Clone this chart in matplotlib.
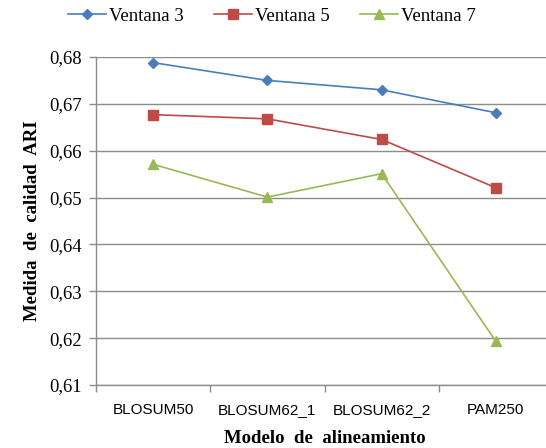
import numpy as np
import matplotlib.pyplot as plt
from matplotlib.ticker import FixedLocator, FuncFormatter

# --- Data ---
modelos = ["BLOSUM50", "BLOSUM62_1", "BLOSUM62_2", "PAM250"]
ventana3 = [0.6788, 0.6750, 0.6730, 0.6681]
ventana5 = [0.6677, 0.6668, 0.6624, 0.6521]
ventana7 = [0.6571, 0.6501, 0.6551, 0.6193]
y_ticks = [0.61, 0.62, 0.63, 0.64, 0.65, 0.66, 0.67, 0.68]

serif = "Liberation Serif"
sans = "Liberation Sans"
grid_col = "#8c8c8c"

fig = plt.figure(figsize=(5.46, 4.48), dpi=100)
# axes extends a bit past the right border, as in the original crop
ax = fig.add_axes([96 / 546, 1 - 385 / 448, 457 / 546, 328 / 448])

x = np.arange(len(modelos))
ax.plot(x, ventana3, color="#4A7EBB", lw=1.2, marker="D", ms=5.5, label="Ventana 3")
ax.plot(x, ventana5, color="#BE4B48", lw=1.2, marker="s", ms=7, label="Ventana 5")
ax.plot(x, ventana7, color="#98B954", lw=1.2, marker="^", ms=7.5, label="Ventana 7")

ax.set_xlim(-0.5, len(modelos) - 0.5)
ax.set_ylim(0.61, 0.68)
ax.yaxis.set_major_locator(FixedLocator(y_ticks))
ax.yaxis.set_major_formatter(FuncFormatter(lambda v, p: f"{v:.2f}".replace(".", ",")))
ax.grid(axis="y", color=grid_col, lw=1.0)
ax.set_axisbelow(True)

ax.set_xticks(x)
ax.set_xticklabels(modelos, fontfamily=sans, fontsize=11)
ax.set_xticks(np.arange(-0.5, len(modelos) + 0.5), minor=True)
ax.tick_params(axis="x", which="major", length=0, pad=13)
ax.tick_params(axis="x", which="minor", length=5, color=grid_col, width=1)
ax.tick_params(axis="y", length=5, color=grid_col, width=1, pad=5)
for lab in ax.get_yticklabels():
    lab.set_fontfamily(serif)
    lab.set_fontsize(13.5)

for s in ["top", "right"]:
    ax.spines[s].set_visible(False)
for s in ["left", "bottom"]:
    ax.spines[s].set_color(grid_col)
    ax.spines[s].set_linewidth(1.0)

ax.set_xlabel("Modelo  de  alineamiento", fontfamily=serif, fontweight="bold",
              fontsize=13.5, labelpad=9)
ax.set_ylabel("Medida  de  calidad  ARI", fontfamily=serif, fontweight="bold",
              fontsize=13.5, labelpad=6)

fig.legend(loc="center", bbox_to_anchor=(272 / 546, 1 - 16 / 448), ncol=3, frameon=False,
           prop={"family": serif, "size": 13.5}, handlelength=2.0, handletextpad=0.2,
           columnspacing=1.6)

fig.savefig("out.png", dpi=100)
